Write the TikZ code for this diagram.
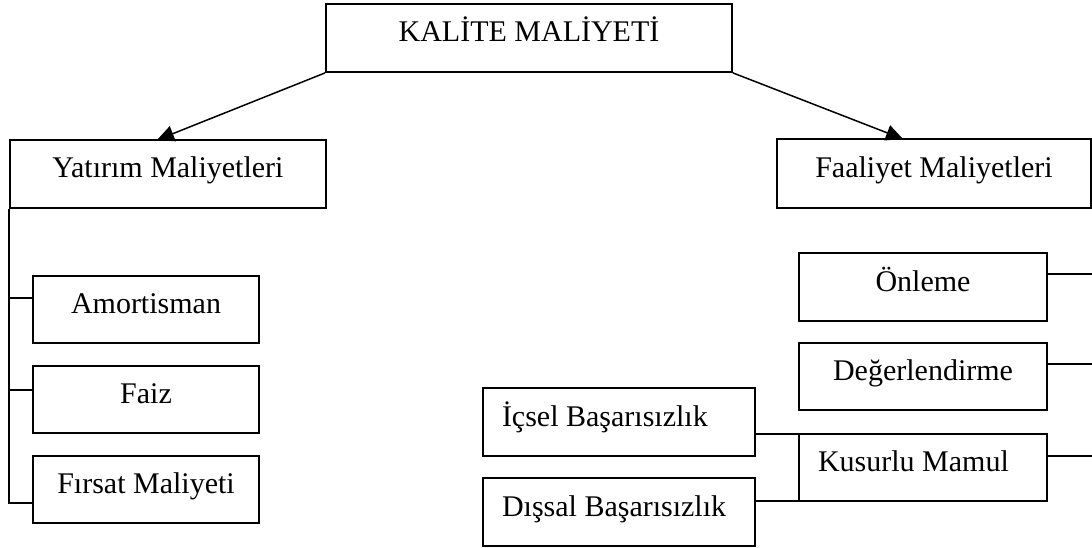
\documentclass[tikz,border=0pt]{standalone}
\usepackage{fontspec}
\setmainfont{Liberation Serif}
\usetikzlibrary{arrows.meta}
\begin{document}
\begin{tikzpicture}[x=1pt,y=-1pt,
  box/.style={draw, line width=1.8pt, inner sep=0pt, minimum height=68pt,
    text height=20pt, text depth=12pt, font=\fontsize{30}{33}\selectfont},
  lbox/.style={box, inner xsep=19pt},
  conn/.style={line width=1.5pt},
  arr/.style={conn, -{Triangle[length=17pt,width=16pt]}}]
\useasboundingbox (0,0) rectangle (1092,548);
% boxes
\node[box, minimum width=406pt] (top) at (529,38) {KALİTE MALİYETİ};
\node[box, minimum width=316pt] (yat) at (168,174) {Yatırım Maliyetleri};
\node[box, minimum width=314pt, minimum height=69pt] (faal) at (934,173.5) {Faaliyet Maliyetleri};
\node[box, minimum width=226pt, minimum height=67pt] (amort) at (146,309.5) {Amortisman};
\node[box, minimum width=226pt, minimum height=67pt] (faiz) at (146,399.5) {Faiz};
\node[box, minimum width=226pt, minimum height=67pt] (firsat) at (146,489.5) {Fırsat Maliyeti};
\node[box, minimum width=248pt] (onl) at (923,287) {Önleme};
\node[box, minimum width=248pt, minimum height=67pt] (deg) at (923,376.5) {Değerlendirme};
\node[lbox, minimum width=248pt, minimum height=67pt] (kus) at (923,467.5) {\makebox[210pt][l]{Kusurlu Mamul}};
\node[lbox, minimum width=272pt] (ics) at (619,422) {\makebox[234pt][l]{İçsel Başarısızlık}};
\node[lbox, minimum width=272pt] (dis) at (619,512) {\makebox[234pt][l]{Dışsal Başarısızlık}};
% coordinates
\coordinate (a1) at (157,140);
\coordinate (a2) at (903,139);
\coordinate (t1) at (10,298);
\coordinate (t2) at (10,390);
\coordinate (t3) at (10,503);
\coordinate (r1) at (1092,274);
\coordinate (r2) at (1092,364);
\coordinate (r3) at (1092,456);
\coordinate (k1) at (845,434);
\coordinate (k2) at (822,501);
% arrows
\draw[arr] (top.south west) -- (a1);
\draw[arr] (top.south east) -- (a2);
% left tree
\draw[conn] (yat.south west) |- (firsat.west |- t3);
\draw[conn] (t1) -- (amort.west |- t1);
\draw[conn] (t2) -- (faiz.west |- t2);
% right lines
\draw[conn] (onl.east |- r1) -- (r1);
\draw[conn] (deg.east |- r2) -- (r2);
\draw[conn] (kus.east |- r3) -- (r3);
\draw[conn] (ics.east |- k1) -- (k1);
\draw[conn] (dis.east |- k2) -- (k2);
\end{tikzpicture}
\end{document}
